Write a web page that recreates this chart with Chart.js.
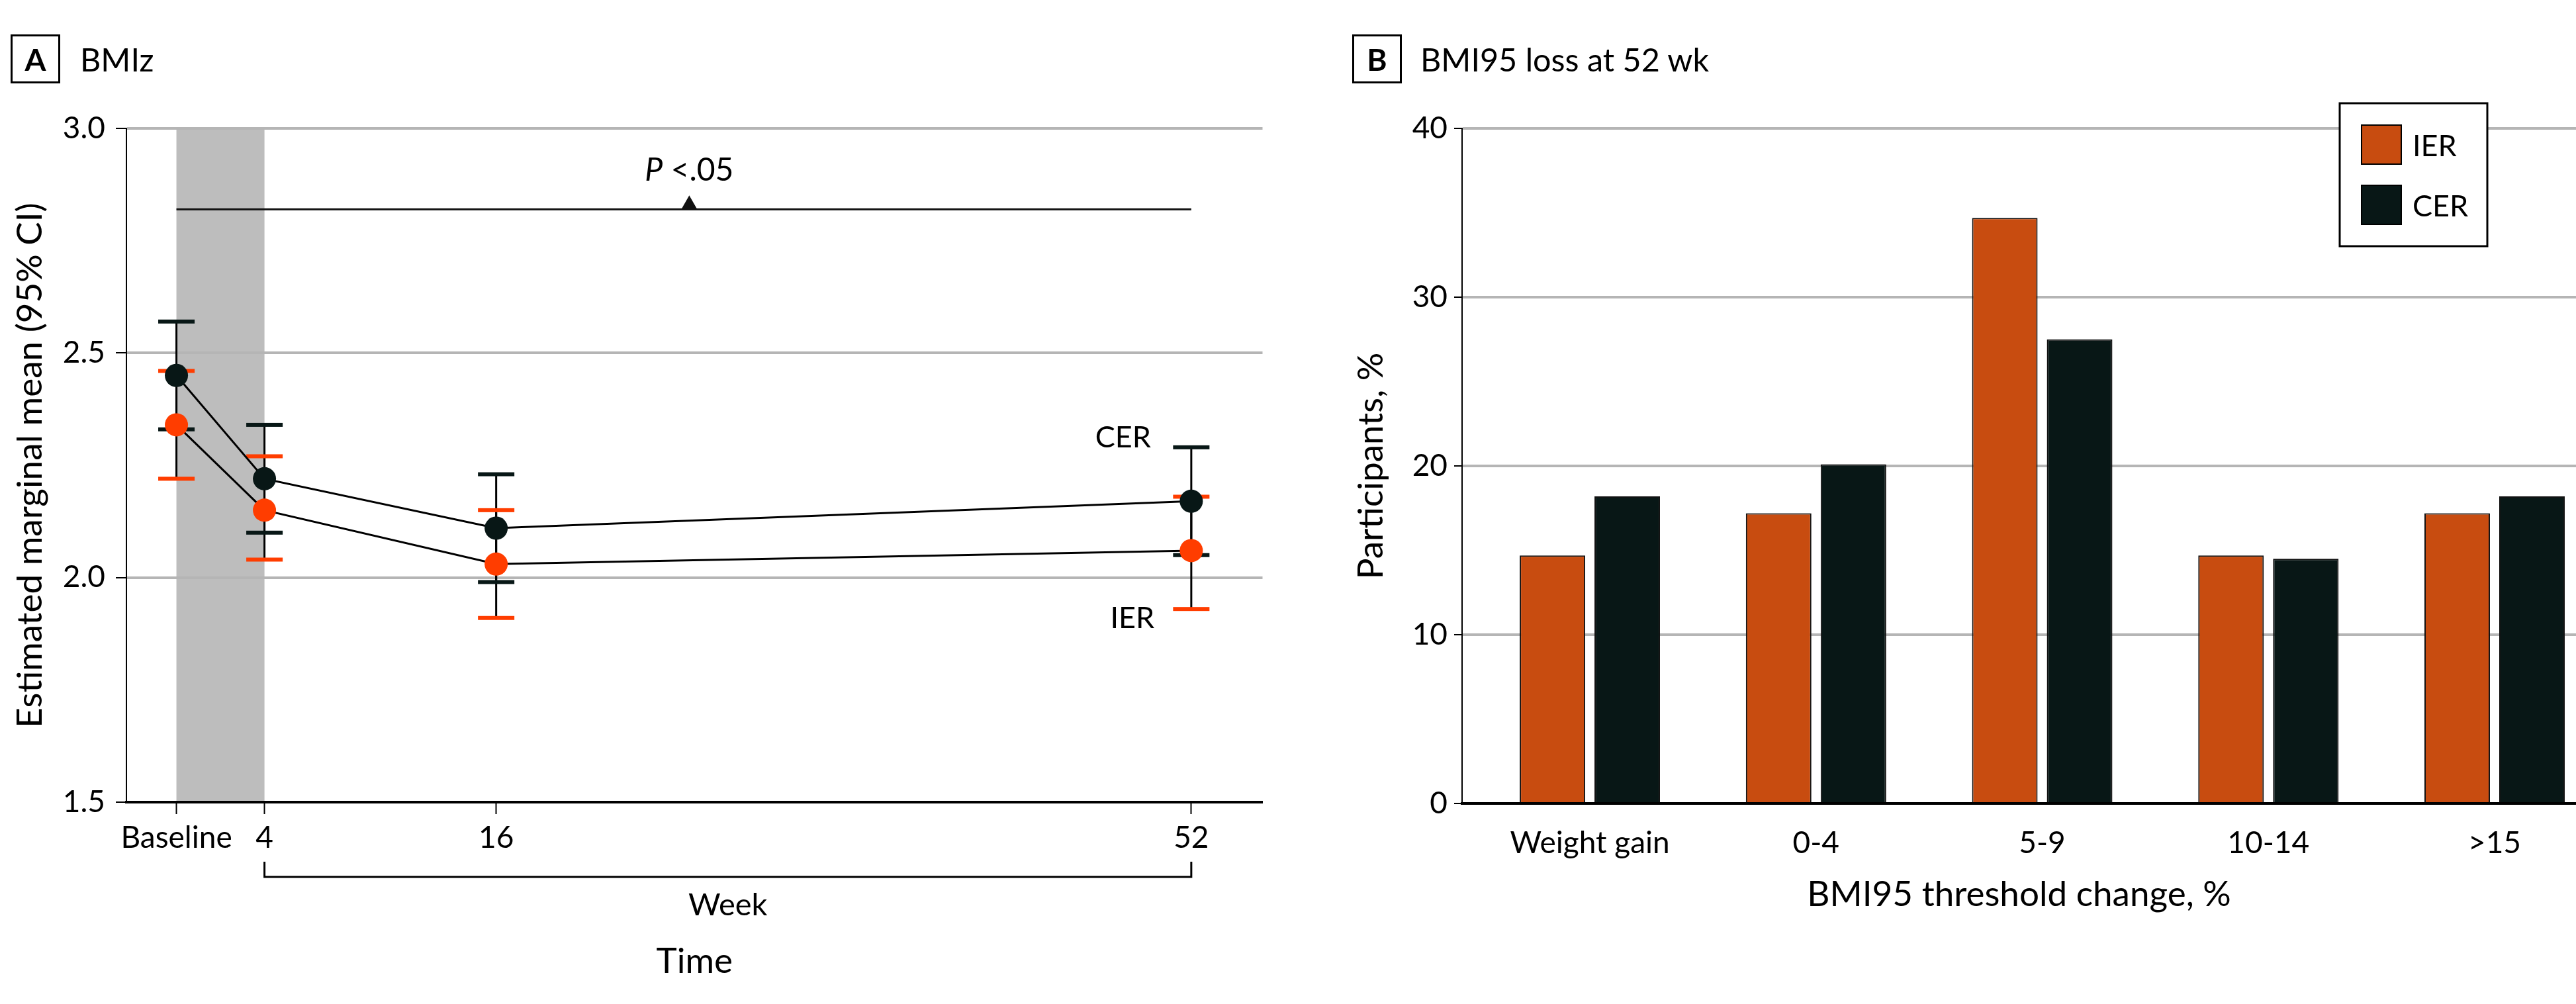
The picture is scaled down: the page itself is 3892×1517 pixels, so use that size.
<!DOCTYPE html>
<html lang="en">
<head>
<meta charset="UTF-8">
<title>BMIz and BMI95 loss</title>
<script src="https://cdn.jsdelivr.net/npm/chart.js"></script>
<style>
  body { margin: 0; background: #fff; font-family: Lato, sans-serif; color: #000; }
  .page { position: relative; width: 3892px; height: 1517px; overflow: hidden; }
  .panel-a { position: absolute; left: 0; top: 0; width: 1925px; height: 1517px; }
  .panel-b { position: absolute; left: 1960px; top: 0; width: 1932px; height: 1517px; }
  .tag {
    position: absolute; top: 52px; width: 69px; height: 68px;
    border: 3px solid #000; font: bold 46px Lato;
    display: flex; align-items: center; justify-content: center;
  }
  .heading { position: absolute; top: 60px; font-size: 48.5px; line-height: 58px; white-space: nowrap; }
</style>
</head>
<body>
<div class="page">
  <div class="panel-a"><canvas id="chartA"></canvas></div>
  <div class="panel-b"><canvas id="chartB"></canvas></div>
  <div class="tag" style="left:16px">A</div>
  <div class="heading" style="left:121px">BMIz</div>
  <div class="tag" style="left:2043px">B</div>
  <div class="heading" style="left:2146px">BMI95 loss at 52 wk</div>
</div>

<script>
// Panel A: estimated marginal means of BMIz (95% CI)
const weeks = [-0.56, 4, 16, 52];
const weekLabels = ['Baseline', '4', '16', '52'];
const cerMean  = [2.45, 2.22, 2.11, 2.17];
const cerLower = [2.33, 2.10, 1.99, 2.05];
const cerUpper = [2.57, 2.34, 2.23, 2.29];
const ierMean  = [2.34, 2.15, 2.03, 2.06];
const ierLower = [2.22, 2.04, 1.91, 1.93];
const ierUpper = [2.46, 2.27, 2.15, 2.18];
const shadedWeeks = [-0.56, 4];
const pLineWeeks = [-0.56, 52];
const pLineValue = 2.82;
const pMarkWeek = 26;

// Panel B: participants by BMI95 change at 52 wk
const bmiBands = ['Weight gain', '0-4', '5-9', '10-14', '>15'];
const ierPct = [14.7, 17.2, 34.7, 14.7, 17.2];
const cerPct = [18.2, 20.1, 27.5, 14.5, 18.2];

const IER_DOT = '#ff3d00';
const CER_DOT = '#081716';
const IER_BAR = '#c84c10';
const CER_BAR = '#081716';
const GRID = '#b5b5b5';

Chart.defaults.font.family = 'Lato, sans-serif';
Chart.defaults.color = '#000';

const bmizExtras = {
    id: 'bmizExtras',
    beforeDraw(chart) {
        // shaded first 4 weeks, under the grid lines
        const {ctx, chartArea: a, scales: {x}} = chart;
        const x0 = x.getPixelForValue(shadedWeeks[0]);
        const x1 = x.getPixelForValue(shadedWeeks[1]);
        ctx.save();
        ctx.fillStyle = '#bdbdbd';
        ctx.fillRect(x0, a.top, x1 - x0, a.bottom - a.top);
        ctx.restore();
    },
    beforeDatasetsDraw(chart) {
        const {ctx, scales: {x, y}} = chart;
        const series = [
            {lo: ierLower, hi: ierUpper, color: IER_DOT},
            {lo: cerLower, hi: cerUpper, color: CER_DOT}
        ];
        ctx.save();
        ctx.strokeStyle = '#000';
        ctx.lineWidth = 3;
        series.forEach(s => {
            weeks.forEach((w, i) => {
                const px = x.getPixelForValue(w);
                ctx.beginPath();
                ctx.moveTo(px, y.getPixelForValue(s.hi[i]));
                ctx.lineTo(px, y.getPixelForValue(s.lo[i]));
                ctx.stroke();
            });
        });
        series.forEach(s => {
            ctx.fillStyle = s.color;
            weeks.forEach((w, i) => {
                const px = x.getPixelForValue(w);
                [s.lo[i], s.hi[i]].forEach(v => {
                    ctx.fillRect(px - 27.5, y.getPixelForValue(v) - 3, 55, 6);
                });
            });
        });
        ctx.restore();
    },
    afterDatasetsDraw(chart) {
        const {ctx, scales: {x, y}} = chart;
        const mx = x.getPixelForValue(pMarkWeek);
        const ly = y.getPixelForValue(pLineValue);
        ctx.save();
        // triangle marker on the P line
        ctx.fillStyle = '#111';
        ctx.beginPath();
        ctx.moveTo(mx - 12, ly);
        ctx.lineTo(mx + 12, ly);
        ctx.lineTo(mx, ly - 21);
        ctx.closePath();
        ctx.fill();
        // "P <.05"
        ctx.fillStyle = '#000';
        ctx.textBaseline = 'alphabetic';
        ctx.font = 'italic 48px Lato';
        const wP = ctx.measureText('P').width;
        ctx.font = '48px Lato';
        const rest = ' <.05';
        const wR = ctx.measureText(rest).width;
        const startX = mx - (wP + wR) / 2;
        ctx.font = 'italic 48px Lato';
        ctx.textAlign = 'left';
        ctx.fillText('P', startX, ly - 43);
        ctx.font = '48px Lato';
        ctx.fillText(rest, startX + wP, ly - 43);
        // series labels next to the week 52 points
        const last = weeks.length - 1;
        const px = x.getPixelForValue(weeks[last]);
        ctx.textAlign = 'center';
        ctx.font = '45px Lato';
        ctx.fillText('CER', px - 103, y.getPixelForValue(cerMean[last]) - 81);
        ctx.fillText('IER', px - 89, y.getPixelForValue(ierMean[last]) + 117);
        ctx.restore();
    },
    afterDraw(chart) {
        // bracket grouping the week ticks
        const {ctx, chartArea: a, scales: {x}} = chart;
        const x0 = x.getPixelForValue(weeks[1]);
        const x1 = x.getPixelForValue(weeks[weeks.length - 1]);
        const top = a.bottom + 90, bot = a.bottom + 113;
        ctx.save();
        ctx.strokeStyle = '#000';
        ctx.lineWidth = 3;
        ctx.beginPath();
        ctx.moveTo(x0, top);
        ctx.lineTo(x0, bot);
        ctx.lineTo(x1, bot);
        ctx.lineTo(x1, top);
        ctx.stroke();
        ctx.fillStyle = '#000';
        ctx.font = '47px Lato';
        ctx.textAlign = 'center';
        ctx.textBaseline = 'alphabetic';
        ctx.fillText('Week', (x0 + x1) / 2, a.bottom + 171);
        ctx.restore();
    }
};

new Chart(document.getElementById('chartA'), {
    type: 'line',
    data: {
        datasets: [
            {
                label: 'CER',
                data: weeks.map((w, i) => ({x: w, y: cerMean[i]})),
                borderColor: '#000',
                borderWidth: 3,
                pointRadius: 17.5,
                pointBorderWidth: 0,
                pointBackgroundColor: CER_DOT,
                tension: 0
            },
            {
                label: 'IER',
                data: weeks.map((w, i) => ({x: w, y: ierMean[i]})),
                borderColor: '#000',
                borderWidth: 3,
                pointRadius: 17.5,
                pointBorderWidth: 0,
                pointBackgroundColor: IER_DOT,
                tension: 0
            },
            {
                label: 'P line',
                data: pLineWeeks.map(w => ({x: w, y: pLineValue})),
                borderColor: '#111',
                borderWidth: 3,
                pointRadius: 0
            }
        ]
    },
    options: {
        responsive: true,
        maintainAspectRatio: false,
        animation: false,
        layout: { padding: { top: 194, right: 14, left: 0, bottom: 0 } },
        plugins: { legend: { display: false }, tooltip: { enabled: false } },
        scales: {
            x: {
                type: 'linear',
                min: -3.15,
                max: 55.69,
                afterBuildTicks: s => { s.ticks = weeks.map(v => ({value: v})); },
                afterFit: s => { s.height = 305; },
                ticks: {
                    callback: (v, i) => weekLabels[i],
                    autoSkip: false,
                    maxRotation: 0,
                    padding: 9,
                    font: { size: 46 }
                },
                grid: { drawOnChartArea: false, tickLength: 18, tickColor: '#000', tickWidth: 2 },
                border: { color: '#000', width: 4 },
                title: { display: true, text: 'Time', font: { size: 53 }, padding: { top: 0, bottom: 32 } }
            },
            y: {
                min: 1.5,
                max: 3.0,
                afterFit: s => { s.width = 191; },
                ticks: {
                    stepSize: 0.5,
                    callback: v => v.toFixed(1),
                    padding: 16,
                    font: { size: 46 }
                },
                grid: {
                    color: c => (c.tick && c.tick.value === 1.5) ? 'rgba(0,0,0,0)' : GRID,
                    lineWidth: 4,
                    tickColor: '#000',
                    tickLength: 16,
                    tickWidth: 2
                },
                border: { color: '#000', width: 2 },
                title: { display: true, text: 'Estimated marginal mean (95% CI)', font: { size: 53 }, padding: { top: 14, bottom: 0 } }
            }
        }
    },
    plugins: [bmizExtras]
});

const boxLegend = {
    id: 'boxLegend',
    afterDraw(chart, args, opts) {
        const {ctx} = chart;
        ctx.save();
        ctx.fillStyle = '#fff';
        ctx.fillRect(opts.left, opts.top, opts.width, opts.height);
        ctx.strokeStyle = '#000';
        ctx.lineWidth = 3;
        ctx.strokeRect(opts.left, opts.top, opts.width, opts.height);
        ctx.font = '45px Lato';
        ctx.textAlign = 'left';
        ctx.textBaseline = 'alphabetic';
        chart.data.datasets.forEach((ds, i) => {
            const sy = opts.top + 33 + i * 91;
            ctx.fillStyle = ds.backgroundColor;
            ctx.fillRect(opts.left + 33, sy, 60, 59);
            ctx.lineWidth = 2;
            ctx.strokeRect(opts.left + 33, sy, 60, 59);
            ctx.fillStyle = '#000';
            ctx.fillText(ds.label, opts.left + 110, sy + 47);
        });
        ctx.restore();
    }
};

new Chart(document.getElementById('chartB'), {
    type: 'bar',
    data: {
        datasets: [
            {
                label: 'IER',
                data: ierPct.map((v, i) => ({x: i, y: v})),
                backgroundColor: IER_BAR,
                borderColor: '#111',
                borderWidth: 2
            },
            {
                label: 'CER',
                data: cerPct.map((v, i) => ({x: i, y: v})),
                backgroundColor: CER_BAR,
                borderColor: '#111',
                borderWidth: 2
            }
        ]
    },
    options: {
        responsive: true,
        maintainAspectRatio: false,
        animation: false,
        categoryPercentage: 0.6613,
        barPercentage: 0.876,
        layout: { padding: { top: 194, right: 0, left: 0, bottom: 0 } },
        plugins: {
            legend: { display: false },
            tooltip: { enabled: false },
            boxLegend: { left: 1575, top: 156, width: 223, height: 216 }
        },
        scales: {
            x: {
                type: 'linear',
                offset: false,
                min: -0.565,
                max: 4.36,
                afterBuildTicks: s => { s.ticks = bmiBands.map((b, i) => ({value: i})); },
                afterFit: s => { s.height = 303; },
                ticks: {
                    callback: (v, i) => bmiBands[i],
                    autoSkip: false,
                    maxRotation: 0,
                    padding: 25,
                    font: { size: 46 }
                },
                grid: { display: false, offset: false },
                border: { color: '#000', width: 4 },
                title: { display: true, text: 'BMI95 threshold change, %', font: { size: 53 }, padding: { top: 0, bottom: 133 } }
            },
            y: {
                min: 0,
                max: 40,
                afterFit: s => { s.width = 249; },
                ticks: { stepSize: 10, padding: 10, font: { size: 46 } },
                grid: {
                    color: c => (c.tick && c.tick.value === 0) ? 'rgba(0,0,0,0)' : GRID,
                    lineWidth: 4,
                    tickColor: '#000',
                    tickLength: 12,
                    tickWidth: 2
                },
                border: { color: '#000', width: 2 },
                title: { display: true, text: 'Participants, %', font: { size: 53 }, padding: { top: 80, bottom: 0 } }
            }
        }
    },
    plugins: [boxLegend]
});
</script>
</body>
</html>
